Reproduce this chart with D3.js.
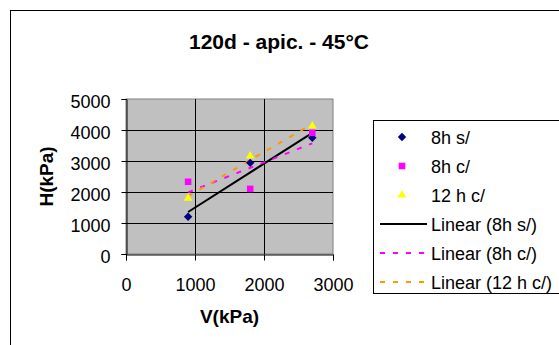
<!DOCTYPE html>
<html>
<head>
<meta charset="utf-8">
<script src="https://cdn.jsdelivr.net/npm/d3@7"></script>
<style>
  html, body { margin: 0; padding: 0; background: #fff; }
  svg { display: block; font-family: "Liberation Sans", Arial, sans-serif; }
</style>
</head>
<body>
<svg id="chart" width="559" height="345"></svg>
<script>
// ---- data ----
const chartTitle = "120d - apic. - 45°C";
const xValues = [900, 1800, 2700];
const series8hs = [1200, 2940, 3750];
const series8hc = [2330, 2100, 3910];
const series12hc = [1800, 3160, 4130];
const seriesNames = ["8h s/", "8h c/", "12 h c/"];
const trendNames = ["Linear (8h s/)", "Linear (8h c/)", "Linear (12 h c/)"];
const xTicks = [0, 1000, 2000, 3000];
const yTicks = [0, 1000, 2000, 3000, 4000, 5000];
const xTitle = "V(kPa)";
const yTitle = "H(kPa)";

const svg = d3.select("#chart");

// chart border (cropped on right/bottom)
svg.append("rect").attr("x", 10.5).attr("y", 10.5).attr("width", 600).attr("height", 400)
  .attr("fill", "#fff").attr("stroke", "#000").attr("stroke-width", 1);

const plot = { left: 126, right: 333, top: 99, bottom: 254 };
const x = d3.scaleLinear().domain([0, 3000]).range([plot.left, plot.right]);
const y = d3.scaleLinear().domain([0, 5000]).range([plot.bottom, plot.top]);

// plot area
svg.append("rect").attr("x", plot.left).attr("y", plot.top)
  .attr("width", plot.right - plot.left).attr("height", plot.bottom - plot.top)
  .attr("fill", "#c0c0c0").attr("stroke", "#808080").attr("stroke-width", 1);

// gridlines
svg.append("g").selectAll("line").data(yTicks.filter(d => d > 0 && d < 5000)).join("line")
  .attr("x1", plot.left).attr("x2", plot.right)
  .attr("y1", d => Math.round(y(d)) + 0.5).attr("y2", d => Math.round(y(d)) + 0.5)
  .attr("stroke", "#000").attr("stroke-width", 1);
svg.append("g").selectAll("line").data(xTicks.filter(d => d > 0 && d < 3000)).join("line")
  .attr("x1", d => Math.round(x(d)) + 0.5).attr("x2", d => Math.round(x(d)) + 0.5)
  .attr("y1", plot.top).attr("y2", plot.bottom)
  .attr("stroke", "#000").attr("stroke-width", 1);

// axes
const yAxis = d3.axisLeft(y).tickValues(yTicks).tickSize(5).tickPadding(11).tickFormat(d3.format("d"));
const gy = svg.append("g").attr("transform", `translate(${plot.left + 0.5},0)`).call(yAxis);
const xAxis = d3.axisBottom(x).tickValues(xTicks).tickSize(6).tickPadding(18).tickFormat(d3.format("d"));
const gx = svg.append("g").attr("transform", `translate(0,${plot.bottom + 0.5})`).call(xAxis);
[gx, gy].forEach(g => {
  g.select(".domain").attr("stroke", "#000");
  g.selectAll(".tick line").attr("stroke", "#000");
  g.selectAll("text").attr("font-size", 18).attr("fill", "#000")
    .attr("font-family", "'Liberation Sans', Arial, sans-serif");
});
gy.selectAll("text").attr("dy", "0.45em");

// titles
svg.append("text").attr("x", 279).attr("y", 49).attr("text-anchor", "middle")
  .attr("font-size", 21).attr("font-weight", "bold").text(chartTitle);
svg.append("text").attr("x", (plot.left + plot.right) / 2).attr("y", 323).attr("text-anchor", "middle")
  .attr("font-size", 19).attr("font-weight", "bold").text(xTitle);
svg.append("text").attr("transform", `translate(53,${(plot.top + plot.bottom) / 2}) rotate(-90)`)
  .attr("text-anchor", "middle").attr("font-size", 19).attr("font-weight", "bold").text(yTitle);

// trendlines (least squares)
function fit(xs, ys) {
  const mx = d3.mean(xs), my = d3.mean(ys);
  const b = d3.sum(xs, (v, i) => (v - mx) * (ys[i] - my)) / d3.sum(xs, v => (v - mx) ** 2);
  const a = my - b * mx;
  const ext = d3.extent(xs);
  return ext.map(v => [v, a + b * v]);
}
const allSeries = [series8hs, series8hc, series12hc];
const trendStyles = [
  { color: "#000000", dash: null },
  { color: "#FF00FF", dash: "5,8" },
  { color: "#FF9900", dash: "5,8" }
];
const line = d3.line().x(d => x(d[0])).y(d => y(d[1]));
allSeries.forEach((s, i) => {
  svg.append("path").attr("d", line(fit(xValues, s))).attr("fill", "none")
    .attr("stroke", trendStyles[i].color).attr("stroke-width", 2)
    .attr("stroke-dasharray", trendStyles[i].dash);
});

// markers
const markerStyles = [
  { sym: d3.symbolDiamond2, size: 45, color: "#000080" },
  { sym: d3.symbolSquare2, size: 55, color: "#FF00FF" },
  { sym: d3.symbolTriangle2, size: 55, color: "#FFFF00" }
];
function drawMarker(g, i, cx, cy) {
  const m = markerStyles[i];
  g.append("path").attr("d", d3.symbol(m.sym, m.size)())
    .attr("transform", `translate(${cx},${cy})`)
    .attr("fill", m.color).attr("stroke", "none");
}
const mg = svg.append("g");
allSeries.forEach((s, i) => {
  s.forEach((v, j) => drawMarker(mg, i, x(xValues[j]), y(v)));
});

// legend
svg.append("rect").attr("x", 373.5).attr("y", 120.5).attr("width", 300).attr("height", 173)
  .attr("fill", "#fff").attr("stroke", "#000").attr("stroke-width", 1);
const legY = [137, 166, 195, 224, 253, 282];
seriesNames.forEach((n, i) => {
  drawMarker(svg, i, 402, legY[i]);
  svg.append("text").attr("x", 431).attr("y", legY[i] + 6.5).attr("font-size", 18).text(n);
});
trendNames.forEach((n, i) => {
  const yy = legY[i + 3];
  svg.append("line").attr("x1", 380).attr("x2", 427).attr("y1", yy).attr("y2", yy)
    .attr("stroke", trendStyles[i].color).attr("stroke-width", 2)
    .attr("stroke-dasharray", trendStyles[i].dash);
  svg.append("text").attr("x", 431).attr("y", yy + 6.5).attr("font-size", 18).text(n);
});
</script>
</body>
</html>
